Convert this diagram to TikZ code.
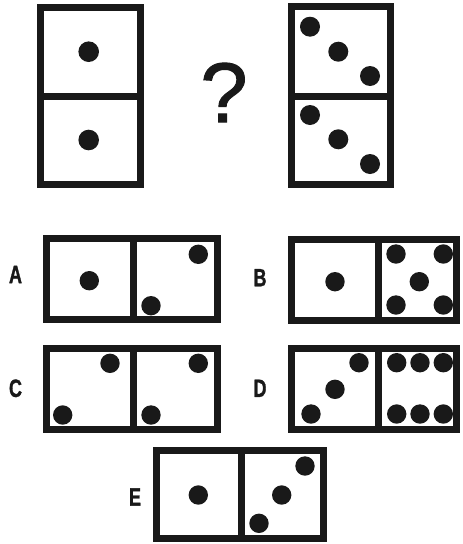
\documentclass[tikz,border=0pt]{standalone}
\usepackage{graphicx}
\usepackage{fontspec}
\setmainfont{Liberation Sans}
\newfontfamily\labfont[FakeBold=1.5]{Liberation Sans Bold}
\newfontfamily\qfont[FakeBold=1.2]{Liberation Sans}
\newcommand{\lbl}[1]{\scalebox{0.72}[1]{#1}}
\begin{document}
\begin{tikzpicture}[x=1pt,y=-1pt,
  frame/.style={draw=black!90,line width=7pt},
  pip/.style={fill=black!90},
  lab/.style={inner sep=0pt,font=\labfont\fontsize{25}{25}\selectfont,text=black!90}]
\useasboundingbox[fill=white] (0,0) rectangle (463,544);
% top-left domino
\draw[frame] (40.2,7.5) rectangle (140.5,184.5);
\draw[frame] (40.2,96.8) -- (140.5,96.8);
\fill[pip] (88.7,51.7) circle[radius=10.3pt];
\fill[pip] (88.7,140) circle[radius=10.3pt];
% question mark
\node[inner sep=0pt,font=\qfont\fontsize{85}{85}\selectfont,text=black!90] (q) at (224,92.5) {?};
% top-right domino
\draw[frame] (291.8,6.5) rectangle (390.5,184.5);
\draw[frame] (291.8,96.8) -- (390.5,96.8);
\foreach \p in {(310,26.7),(338.3,51.7),(370,76),(310,115),(338.3,139.3),(370,164)}
  \fill[pip] \p circle[radius=10pt];
% A
\node[lab] (la) at (15.5,274.5) {\lbl{A}};
\draw[frame] (46.8,238.5) rectangle (217.2,319.8);
\draw[frame] (133.3,238.5) -- (133.3,319.8);
\foreach \p in {(89.3,280.7),(198.3,254.3),(151,305.7)}
  \fill[pip] \p circle[radius=9.7pt];
% B
\node[lab] (lb) at (260,277.7) {\lbl{B}};
\draw[frame] (291.8,239.2) rectangle (456.5,320.5);
\draw[frame] (378.7,239.2) -- (378.7,320.5);
\foreach \p in {(335,281.7),(396,254),(443.3,254),(419.3,281.7),(396,305),(443.3,305)}
  \fill[pip] \p circle[radius=9.7pt];
% C
\node[lab] (lc) at (15.5,388.3) {\lbl{C}};
\draw[frame] (46.8,348.5) rectangle (217.2,429.2);
\draw[frame] (133.3,348.5) -- (133.3,429.2);
\foreach \p in {(110,363.3),(62.7,415),(198.3,363.3),(151,415)}
  \fill[pip] \p circle[radius=9.7pt];
% D
\node[lab] (ld) at (260,388.3) {\lbl{D}};
\draw[frame] (291.8,348.5) rectangle (456.5,429.8);
\draw[frame] (378.7,348.5) -- (378.7,429.8);
\foreach \p in {(359,362.7),(335,389.3),(311,414),(396.7,362.7),(420,362.7),(443.3,362.7),(396.7,414),(420,414),(443.3,414)}
  \fill[pip] \p circle[radius=9.7pt];
% E
\node[lab] (le) at (135,497) {\lbl{E}};
\draw[frame] (156.2,450.2) rectangle (323.2,538.2);
\draw[frame] (241,450.2) -- (241,538.2);
\foreach \p in {(198.3,495),(305,466),(281.7,495),(259,523.3)}
  \fill[pip] \p circle[radius=9.7pt];
\end{tikzpicture}
\end{document}
